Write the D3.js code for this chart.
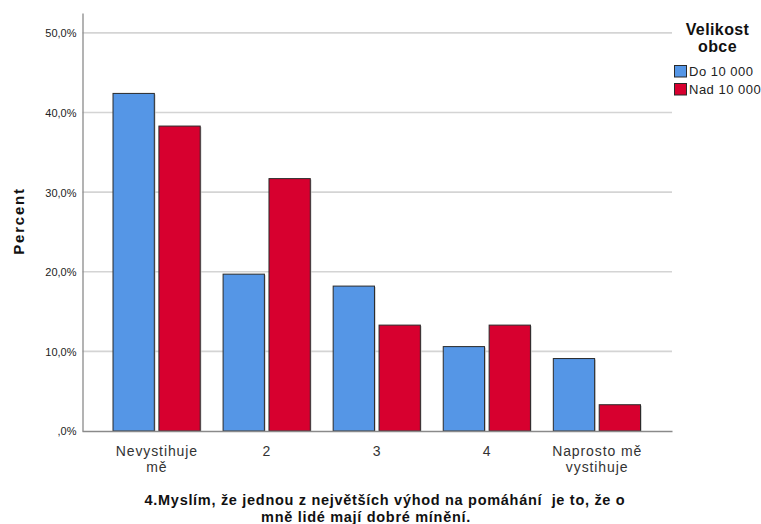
<!DOCTYPE html>
<html><head><meta charset="utf-8">
<script src="https://cdn.jsdelivr.net/npm/d3@7"></script>
<style>
html,body{margin:0;padding:0;background:#fff;}
svg{display:block;font-family:"Liberation Sans",Arial,sans-serif;}
</style></head>
<body>
<script>
const categories = [["Nevystihuje","mě"],["2"],["3"],["4"],["Naprosto mě","vystihuje"]];
const seriesNames = ["Do 10 000","Nad 10 000"];
const seriesDo10000 = [42.4, 19.7, 18.2, 10.6, 9.1];
const seriesNad10000 = [38.3, 31.7, 13.3, 13.3, 3.3];
const yTickValues = [0,10,20,30,40,50];
const yTickLabels = [",0%","10,0%","20,0%","30,0%","40,0%","50,0%"];
const colors = ["#5596e6","#d7002f"];
const titleLines = ["4.Myslím, že jednou z největších výhod na pomáhání  je to, že o","mně lidé mají dobré mínění."];
const legendTitle = ["Velikost","obce"];
const yLabel = "Percent";

const W=761,H=524;
const pL=82.5, pR=672, pT=13, pB=431;
const svg=d3.select("body").append("svg").attr("width",W).attr("height",H);

const keys = categories.map((c,i)=>i);
const x=d3.scaleBand().domain(keys).range([pL-0.5,pR]).paddingInner(0).paddingOuter(0.18);
const xi=d3.scaleBand().domain([0,1]).range([11.2,98.4]).paddingInner(0.1);
const y=d3.scaleLinear().domain([0,52.5]).range([pB,pT]);

// gridlines
svg.append("g").selectAll("line").data(yTickValues.filter(v=>v>0)).join("line")
  .attr("x1",pL).attr("x2",pR).attr("y1",d=>y(d)).attr("y2",d=>y(d))
  .attr("stroke","#d4d4d4").attr("stroke-width",1.6);

// y axis via d3 axis
const yAxis=d3.axisLeft(y).tickValues(yTickValues).tickSize(0).tickPadding(6)
  .tickFormat((d,i)=>yTickLabels[i]);
const gy=svg.append("g").attr("transform",`translate(${pL},0)`).call(yAxis);
gy.select(".domain").attr("stroke","#8a8a8a").attr("stroke-width",1.3);
gy.selectAll("text").attr("font-size",11).attr("fill","#222").attr("font-family","Liberation Sans, Arial, sans-serif").attr("dy","0.36em");

// bars
const data=[];
keys.forEach(k=>{data.push({k,s:0,v:seriesDo10000[k]});data.push({k,s:1,v:seriesNad10000[k]});});
const gb=svg.append("g");
gb.selectAll("rect.sh").data(data).join("rect").attr("class","sh")
  .attr("x",d=>x(d.k)+xi(d.s)+1.2).attr("y",d=>y(d.v)+1)
  .attr("width",xi.bandwidth()).attr("height",d=>pB-y(d.v)-1)
  .attr("fill","#c4c4c4");
gb.selectAll("rect.bar").data(data).join("rect").attr("class","bar")
  .attr("x",d=>x(d.k)+xi(d.s)).attr("y",d=>y(d.v))
  .attr("width",xi.bandwidth()).attr("height",d=>pB-y(d.v))
  .attr("fill",d=>colors[d.s]).attr("stroke","#2a2a2a").attr("stroke-width",1);

// x axis
const xAxis=d3.axisBottom(x).tickSize(0).tickFormat(()=>"");
const gx=svg.append("g").attr("transform",`translate(0,${pB})`).call(xAxis);
gx.select(".domain").attr("stroke","#8a8a8a").attr("stroke-width",1.3);
gx.selectAll(".tick").each(function(k){
  const t=d3.select(this).append("text").attr("text-anchor","middle").attr("fill","#333")
    .attr("font-size",14).attr("letter-spacing","0.9px").attr("font-family","Liberation Sans, Arial, sans-serif");
  categories[k].forEach((ln,j)=>t.append("tspan").attr("x",0).attr("y",25+j*15.5).text(ln));
});

// y label
svg.append("text").attr("transform",`translate(24,221) rotate(-90)`)
  .attr("text-anchor","middle").attr("font-weight","bold").attr("font-size",15).attr("letter-spacing","1.8px")
  .attr("fill","#111").text(yLabel);

// title
const tcx=[385,366];
titleLines.forEach((ln,j)=>{
  svg.append("text").attr("x",tcx[j]).attr("y",505+j*16.5).attr("text-anchor","middle")
    .attr("font-weight","bold").attr("font-size",14.5).attr("letter-spacing","0.7px").attr("fill","#111")
    .style("white-space","pre").text(ln);
});

// legend
const lg=svg.append("g");
legendTitle.forEach((ln,j)=>{
  lg.append("text").attr("x",717.5).attr("y",35+j*17).attr("text-anchor","middle")
    .attr("font-weight","bold").attr("font-size",16).attr("letter-spacing","0.4px").attr("fill","#111").text(ln);
});
seriesNames.forEach((n,i)=>{
  lg.append("rect").attr("x",674.5).attr("y",65.5+i*18).attr("width",12).attr("height",11.5)
    .attr("fill",colors[i]).attr("stroke","#2a2a2a").attr("stroke-width",1);
  lg.append("text").attr("x",689).attr("y",76+i*18).attr("font-size",13).attr("letter-spacing","0.5px")
    .attr("fill","#222").text(n);
});
</script>
</body></html>
